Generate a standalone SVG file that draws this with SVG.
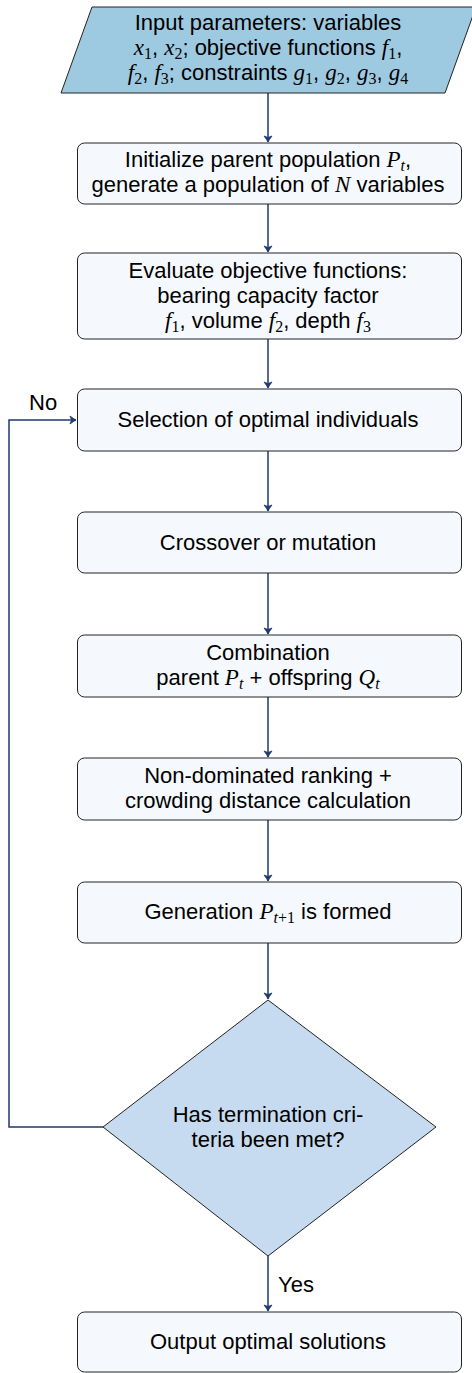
<svg xmlns="http://www.w3.org/2000/svg" width="472" height="1373" viewBox="0 0 472 1373">
<style>
  .box { fill: #f5f9fe; stroke: #222; stroke-width: 1; }
  .io { fill: #9ecae1; stroke: #222; stroke-width: 1; }
  .dec { fill: #c6dbef; stroke: #222; stroke-width: 1; }
  .t { font-family: "Liberation Sans", Arial, sans-serif; font-size: 22px; fill: #000; text-anchor: middle; }
  .tl { font-family: "Liberation Sans", Arial, sans-serif; font-size: 22px; fill: #000; }
  .m { font-family: "Liberation Serif", "Times New Roman", serif; font-style: italic; font-size: 23px; }
  .s { font-family: "Liberation Serif", "Times New Roman", serif; font-size: 16px; }
  .si { font-family: "Liberation Serif", "Times New Roman", serif; font-style: italic; font-size: 16px; }
  .c { fill: none; stroke: #1f3a6e; stroke-width: 1.5; }
</style>
<defs>
  <marker id="ah" viewBox="-8 -5 10 10" refX="0" refY="0" markerWidth="10" markerHeight="10" markerUnits="userSpaceOnUse" orient="auto">
    <path d="M-6,-4 Q-2,-1 0,0 Q-2,1 -6,4 L-4.5,0 Z" fill="#1f3a6e" stroke="#1f3a6e" stroke-width="0.8" stroke-linejoin="round"/>
  </marker>
</defs>

<g id="connectors">
  <line class="c" x1="268" y1="93" x2="268" y2="142" marker-end="url(#ah)"/>
  <line class="c" x1="268" y1="204" x2="268" y2="252" marker-end="url(#ah)"/>
  <line class="c" x1="268" y1="339" x2="268" y2="388" marker-end="url(#ah)"/>
  <line class="c" x1="268" y1="451" x2="268" y2="511" marker-end="url(#ah)"/>
  <line class="c" x1="268" y1="573" x2="268" y2="634" marker-end="url(#ah)"/>
  <line class="c" x1="268" y1="697" x2="268" y2="757" marker-end="url(#ah)"/>
  <line class="c" x1="268" y1="820" x2="268" y2="881" marker-end="url(#ah)"/>
  <line class="c" x1="268" y1="943" x2="268" y2="999" marker-end="url(#ah)"/>
  <line class="c" x1="268" y1="1256" x2="268" y2="1311" marker-end="url(#ah)"/>
  <polyline class="c" points="103,1127 9,1127 9,420 76,420" marker-end="url(#ah)"/>
  <text class="tl" x="278" y="1292">Yes</text>
  <text class="tl" x="29" y="410">No</text>
</g>

<g id="input">
  <polygon class="io" points="92,7 476,7 445,93 61,93"/>
  <text class="t" x="268" y="30">Input parameters: variables</text>
  <text class="t" x="268" y="55"><tspan class="m">x</tspan><tspan class="s" dy="4">1</tspan><tspan dy="-4">, </tspan><tspan class="m">x</tspan><tspan class="s" dy="4">2</tspan><tspan dy="-4">; objective functions </tspan><tspan class="m">f</tspan><tspan class="s" dy="4">1</tspan><tspan dy="-4">,</tspan></text>
  <text class="t" x="268" y="80"><tspan class="m">f</tspan><tspan class="s" dy="4">2</tspan><tspan dy="-4">, </tspan><tspan class="m">f</tspan><tspan class="s" dy="4">3</tspan><tspan dy="-4">; constraints </tspan><tspan class="m">g</tspan><tspan class="s" dy="4">1</tspan><tspan dy="-4">, </tspan><tspan class="m">g</tspan><tspan class="s" dy="4">2</tspan><tspan dy="-4">, </tspan><tspan class="m">g</tspan><tspan class="s" dy="4">3</tspan><tspan dy="-4">, </tspan><tspan class="m">g</tspan><tspan class="s" dy="4">4</tspan></text>
</g>

<g id="init">
  <rect class="box" x="77.5" y="143" width="384" height="61" rx="7"/>
  <text class="t" x="268" y="167">Initialize parent population <tspan class="m">P</tspan><tspan class="si" dy="4">t</tspan><tspan dy="-4">,</tspan></text>
  <text class="t" x="268" y="192">generate a population of <tspan class="m">N</tspan> variables</text>
</g>

<g id="evaluate">
  <rect class="box" x="77.5" y="253" width="384" height="86" rx="7"/>
  <text class="t" x="268" y="278">Evaluate objective functions:</text>
  <text class="t" x="268" y="303">bearing capacity factor</text>
  <text class="t" x="268" y="328"><tspan class="m">f</tspan><tspan class="s" dy="4">1</tspan><tspan dy="-4">, volume </tspan><tspan class="m">f</tspan><tspan class="s" dy="4">2</tspan><tspan dy="-4">, depth </tspan><tspan class="m">f</tspan><tspan class="s" dy="4">3</tspan></text>
</g>

<g id="selection">
  <rect class="box" x="77.5" y="389" width="384" height="62" rx="7"/>
  <text class="t" x="268" y="427">Selection of optimal individuals</text>
</g>

<g id="crossover">
  <rect class="box" x="77.5" y="512" width="384" height="61" rx="7"/>
  <text class="t" x="268" y="550">Crossover or mutation</text>
</g>

<g id="combination">
  <rect class="box" x="77.5" y="635" width="384" height="62" rx="7"/>
  <text class="t" x="268" y="660">Combination</text>
  <text class="t" x="268" y="685">parent <tspan class="m">P</tspan><tspan class="si" dy="4">t</tspan><tspan dy="-4"> + offspring </tspan><tspan class="m">Q</tspan><tspan class="si" dy="4">t</tspan></text>
</g>

<g id="ranking">
  <rect class="box" x="77.5" y="758" width="384" height="62" rx="7"/>
  <text class="t" x="268" y="783">Non-dominated ranking +</text>
  <text class="t" x="268" y="808">crowding distance calculation</text>
</g>

<g id="generation">
  <rect class="box" x="77.5" y="882" width="384" height="61" rx="7"/>
  <text class="t" x="268" y="919">Generation <tspan class="m">P</tspan><tspan class="si" dy="4">t</tspan><tspan class="s">+1</tspan><tspan dy="-4"> is formed</tspan></text>
</g>

<g id="decision">
  <polygon class="dec" points="268,1000 436,1127 268,1256 103,1127"/>
  <text class="t" x="268" y="1122">Has termination cri-</text>
  <text class="t" x="268" y="1147">teria been met?</text>
</g>

<g id="output">
  <rect class="box" x="77.5" y="1312" width="384" height="60" rx="7"/>
  <text class="t" x="268" y="1349">Output optimal solutions</text>
</g>
</svg>
